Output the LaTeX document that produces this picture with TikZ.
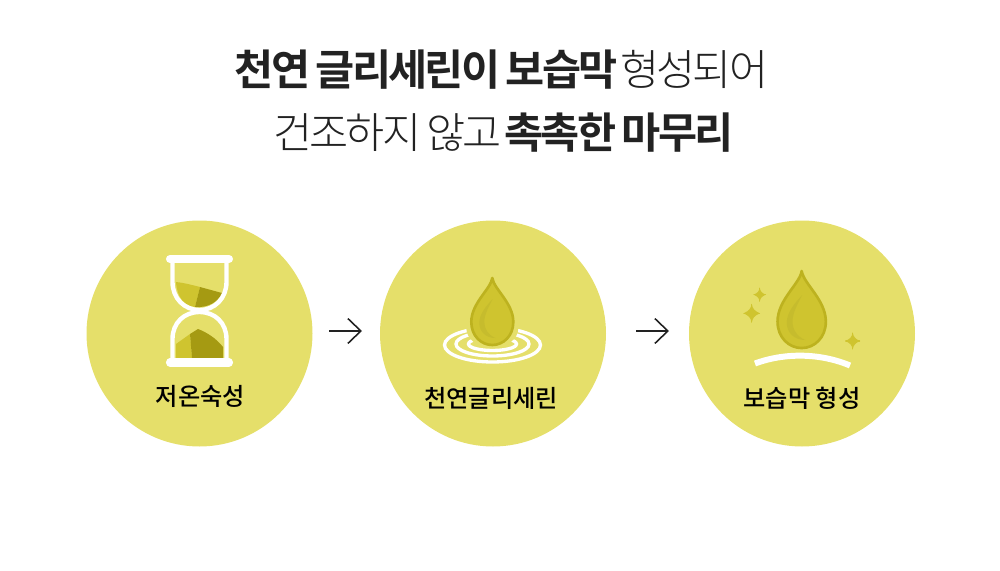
\documentclass[tikz,border=0pt]{standalone}
\usepackage{fontspec}
\setmainfont[LetterSpace=-6.5,WordSpace=0.8,BoldFont={Noto Sans CJK KR Bold}]{Noto Sans CJK KR Light}
\newfontfamily\labelfont{Noto Sans CJK KR Medium}
\usepackage{tikz}
\usetikzlibrary{arrows.meta}
\definecolor{disc}{HTML}{E5DF6A}
\definecolor{sandlight}{HTML}{CFC42F}
\definecolor{sanddark}{HTML}{A59A12}
\definecolor{dropedge}{HTML}{BDB21F}
\definecolor{dropshade}{HTML}{C6BC2D}
\definecolor{ink}{HTML}{222222}
\tikzset{
	stage/.style={circle,fill=disc,minimum size=226*0.1mm,inner sep=0pt},
	caption/.style={font=\labelfont\fontsize{6.9pt}{8pt}\selectfont,text=black},
	headline/.style={font=\fontsize{12.1pt}{14pt}\selectfont,text=ink,inner sep=0pt},
	flow/.style={-{Straight Barb[length=3.7*0.1mm*3.5,width=7.1*0.1mm*3.5]},line width=0.45pt,draw=ink},
	bar/.style={draw=white,line width=1.25pt,line cap=round},
	ring/.style={draw=white,line width=0.95pt},
}
% drop with its tip at (#1,#2), scaled by #3
\newcommand{\droplet}[3]{
	\begin{scope}[shift={(#1,#2)},scale=#3]
		\path[fill=sandlight,draw=dropedge,line width=0.75pt,line join=round] (0,0)
			.. controls (1.5,11) and (21,25) .. (21,44)
			.. controls (21,58) and (11,67) .. (0,67)
			.. controls (-11,67) and (-21,58) .. (-21,44)
			.. controls (-21,25) and (-1.5,11) .. (0,0) -- cycle;
		\fill[dropshade] (0.3,21)
			.. controls (-6,28) and (-13,36) .. (-13,45)
			.. controls (-13,54) and (-6,60) .. (3,60)
			.. controls (-4,57) and (-8,51) .. (-8,44)
			.. controls (-8,36) and (-3,28) .. (0.3,21) -- cycle;
	\end{scope}
}
% sparkle centred at (#1,#2), radius #3
\newcommand{\sparkle}[3]{
	\fill[sandlight,shift={(#1,#2)},scale=#3] (0,-1)
		.. controls (0.12,-0.45) and (0.25,-0.3) .. (0.85,0)
		.. controls (0.25,0.3) and (0.12,0.45) .. (0,1)
		.. controls (-0.12,0.45) and (-0.25,0.3) .. (-0.85,0)
		.. controls (-0.25,-0.3) and (-0.12,-0.45) .. (0,-1) -- cycle;
	\draw[sandlight,line width=0.4pt,line cap=round,shift={(#1,#2)},scale=#3] (0,-0.9) -- (0,0.9) (-0.8,0) -- (0.8,0);
}
\begin{document}
\begin{tikzpicture}[x=0.1mm,y=-0.1mm]
	\useasboundingbox (0,0) rectangle (1000,571);
	\node[headline] (lineone) at (501.5,70) {\textbf{천연 글리세린이 보습막} 형성되어};
	\node[headline] (linetwo) at (502,133) {건조하지 않고 \textbf{촉촉한 마무리}};
	\node[stage] (aging) at (199.5,333.5) {};
	\node[stage] (glycerin) at (493,333.5) {};
	\node[stage] (film) at (802,333.5) {};
	% hourglass
	\fill[sandlight] (176,282) .. controls (185,283) and (192,285) .. (200,287) -- (195,307) .. controls (185,306) and (177,298) .. (176,282) -- cycle;
	\fill[sanddark] (200,287) -- (222,293) .. controls (218,302) and (208,308) .. (195,307) -- cycle;
	\fill[sandlight] (176,344) -- (190,334) -- (192,358) -- (176,358) -- cycle;
	\fill[sanddark] (190,334) -- (198,329) .. controls (206,332) and (216,338) .. (223,347) -- (223,358) -- (192,358) -- cycle;
	\draw[bar] (172.5,259) -- (172.5,282) .. controls (172.5,298) and (184,310) .. (199.5,310) .. controls (215,310) and (226.5,298) .. (226.5,282) -- (226.5,259);
	\draw[bar] (172.5,362) -- (172.5,339) .. controls (172.5,323) and (184,312) .. (199.5,312) .. controls (215,312) and (226.5,323) .. (226.5,339) -- (226.5,362);
	\draw[draw=white,line width=2.3pt,line cap=round] (170,259) -- (229,259);
	\draw[draw=white,line width=2.3pt,line cap=round] (170,362.5) -- (229,362.5);
	\node[caption] (agingtext) at (200.5,396) {저온숙성};
	% ripples
	\draw[ring] (492.5,345) ellipse (48 and 17);
	\draw[ring] (492.5,344) ellipse (36.5 and 12);
	\draw[ring] (492.5,344) ellipse (24 and 6.5);
	\fill[disc] (492.3,328) ellipse (26 and 20);
	\droplet{492.3}{278}{1}
	\node[caption] (glycerintext) at (491,398) {천연글리세린};
	% film
	\droplet{801.7}{271}{1.15}
	\sparkle{759.7}{294.7}{7}
	\sparkle{751.7}{313.3}{9.5}
	\sparkle{852.7}{341}{8.5}
	\draw[draw=white,line width=1.7pt] (755,363.5) .. controls (785,352.5) and (820,353) .. (850,365.5);
	\node[caption] (filmtext) at (802,398) {보습막 형성};
	% arrows
	\coordinate (firststart) at (329,331);
	\coordinate (firstend) at (362,331);
	\coordinate (secondstart) at (636,331);
	\coordinate (secondend) at (669,331);
	\draw[flow] (firststart) -- (firstend);
	\draw[flow] (secondstart) -- (secondend);
\end{tikzpicture}
\end{document}
